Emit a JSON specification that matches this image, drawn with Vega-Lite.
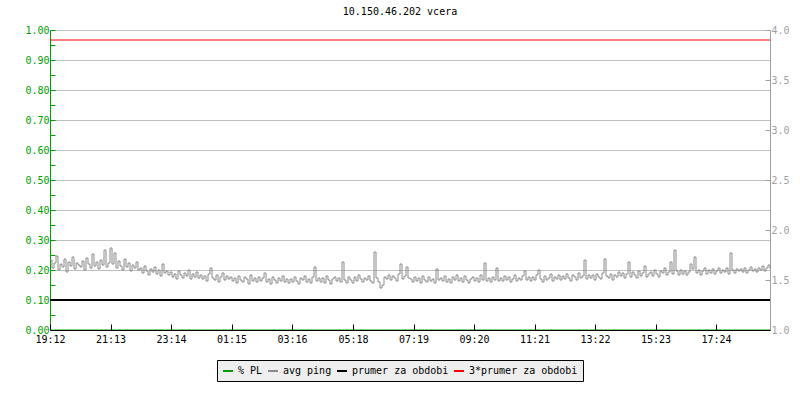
{
  "$schema": "https://vega.github.io/schema/vega-lite/v6.json",
  "width": 720,
  "height": 300,
  "autosize": {"type": "none"},
  "padding": {"left": 50, "top": 30, "right": 30, "bottom": 70},
  "background": "white",
  "title": {"text": "10.150.46.202 vcera", "font": "DejaVu Sans Mono", "fontSize": 10, "fontWeight": "normal", "color": "black", "anchor": "middle", "offset": 8, "dx": -10},
  "config": {"view": {"stroke": null}, "font": "DejaVu Sans Mono"},
  "datasets": {
    "pl": [{"m": 0, "pl": 0}, {"m": 1440, "pl": 0}],
    "ping": [
      {"m":0,"v":1.70},{"m":4,"v":1.62},{"m":8,"v":1.67},{"m":12,"v":1.74},{"m":16,"v":1.60},{"m":20,"v":1.66},{"m":24,"v":1.63},{"m":28,"v":1.71},{"m":32,"v":1.58},{"m":36,"v":1.68},{"m":40,"v":1.64},{"m":44,"v":1.73},{"m":48,"v":1.61},{"m":52,"v":1.67},{"m":56,"v":1.65},
      {"m":60,"v":1.63},{"m":64,"v":1.69},{"m":68,"v":1.60},{"m":72,"v":1.72},{"m":76,"v":1.66},{"m":80,"v":1.62},{"m":84,"v":1.76},{"m":88,"v":1.64},{"m":92,"v":1.68},{"m":96,"v":1.61},{"m":100,"v":1.70},{"m":104,"v":1.65},{"m":108,"v":1.80},{"m":112,"v":1.63},{"m":116,"v":1.67},
      {"m":120,"v":1.82},{"m":124,"v":1.66},{"m":128,"v":1.77},{"m":132,"v":1.62},{"m":136,"v":1.69},{"m":140,"v":1.64},{"m":144,"v":1.60},{"m":148,"v":1.71},{"m":152,"v":1.63},{"m":156,"v":1.67},{"m":160,"v":1.59},{"m":164,"v":1.65},{"m":168,"v":1.62},{"m":172,"v":1.68},{"m":176,"v":1.60},
      {"m":180,"v":1.62},{"m":184,"v":1.57},{"m":188,"v":1.64},{"m":192,"v":1.59},{"m":196,"v":1.55},{"m":200,"v":1.61},{"m":204,"v":1.58},{"m":208,"v":1.63},{"m":212,"v":1.56},{"m":216,"v":1.60},{"m":220,"v":1.54},{"m":224,"v":1.66},{"m":228,"v":1.57},{"m":232,"v":1.59},{"m":236,"v":1.55},
      {"m":240,"v":1.58},{"m":244,"v":1.53},{"m":248,"v":1.56},{"m":252,"v":1.51},{"m":256,"v":1.59},{"m":260,"v":1.55},{"m":264,"v":1.52},{"m":268,"v":1.57},{"m":272,"v":1.54},{"m":276,"v":1.60},{"m":280,"v":1.51},{"m":284,"v":1.56},{"m":288,"v":1.53},{"m":292,"v":1.58},{"m":296,"v":1.52},
      {"m":300,"v":1.55},{"m":304,"v":1.51},{"m":308,"v":1.54},{"m":312,"v":1.49},{"m":316,"v":1.56},{"m":320,"v":1.62},{"m":324,"v":1.52},{"m":328,"v":1.50},{"m":332,"v":1.55},{"m":336,"v":1.48},{"m":340,"v":1.53},{"m":344,"v":1.57},{"m":348,"v":1.50},{"m":352,"v":1.54},{"m":356,"v":1.51},
      {"m":360,"v":1.53},{"m":364,"v":1.49},{"m":368,"v":1.52},{"m":372,"v":1.47},{"m":376,"v":1.54},{"m":380,"v":1.50},{"m":384,"v":1.48},{"m":388,"v":1.53},{"m":392,"v":1.51},{"m":396,"v":1.46},{"m":400,"v":1.55},{"m":404,"v":1.49},{"m":408,"v":1.52},{"m":412,"v":1.48},{"m":416,"v":1.53},
      {"m":420,"v":1.49},{"m":424,"v":1.52},{"m":428,"v":1.57},{"m":432,"v":1.48},{"m":436,"v":1.51},{"m":440,"v":1.46},{"m":444,"v":1.53},{"m":448,"v":1.50},{"m":452,"v":1.47},{"m":456,"v":1.52},{"m":460,"v":1.49},{"m":464,"v":1.54},{"m":468,"v":1.48},{"m":472,"v":1.51},{"m":476,"v":1.47},
      {"m":480,"v":1.51},{"m":484,"v":1.48},{"m":488,"v":1.53},{"m":492,"v":1.49},{"m":496,"v":1.46},{"m":500,"v":1.52},{"m":504,"v":1.50},{"m":508,"v":1.54},{"m":512,"v":1.48},{"m":516,"v":1.51},{"m":520,"v":1.47},{"m":524,"v":1.53},{"m":528,"v":1.63},{"m":532,"v":1.49},{"m":536,"v":1.52},
      {"m":540,"v":1.48},{"m":544,"v":1.52},{"m":548,"v":1.47},{"m":552,"v":1.54},{"m":556,"v":1.50},{"m":560,"v":1.46},{"m":564,"v":1.51},{"m":568,"v":1.53},{"m":572,"v":1.49},{"m":576,"v":1.52},{"m":580,"v":1.48},{"m":584,"v":1.68},{"m":588,"v":1.50},{"m":592,"v":1.47},{"m":596,"v":1.53},
      {"m":600,"v":1.50},{"m":604,"v":1.47},{"m":608,"v":1.53},{"m":612,"v":1.49},{"m":616,"v":1.55},{"m":620,"v":1.51},{"m":624,"v":1.48},{"m":628,"v":1.52},{"m":632,"v":1.50},{"m":636,"v":1.54},{"m":640,"v":1.49},{"m":644,"v":1.47},{"m":648,"v":1.78},{"m":652,"v":1.52},{"m":656,"v":1.48},
      {"m":660,"v":1.42},{"m":664,"v":1.45},{"m":668,"v":1.53},{"m":672,"v":1.51},{"m":676,"v":1.55},{"m":680,"v":1.50},{"m":684,"v":1.54},{"m":688,"v":1.52},{"m":692,"v":1.49},{"m":696,"v":1.56},{"m":700,"v":1.66},{"m":704,"v":1.51},{"m":708,"v":1.54},{"m":712,"v":1.63},{"m":716,"v":1.52},
      {"m":720,"v":1.51},{"m":724,"v":1.48},{"m":728,"v":1.53},{"m":732,"v":1.49},{"m":736,"v":1.52},{"m":740,"v":1.47},{"m":744,"v":1.54},{"m":748,"v":1.50},{"m":752,"v":1.48},{"m":756,"v":1.53},{"m":760,"v":1.49},{"m":764,"v":1.51},{"m":768,"v":1.47},{"m":772,"v":1.61},{"m":776,"v":1.50},
      {"m":780,"v":1.52},{"m":784,"v":1.49},{"m":788,"v":1.54},{"m":792,"v":1.48},{"m":796,"v":1.51},{"m":800,"v":1.47},{"m":804,"v":1.53},{"m":808,"v":1.50},{"m":812,"v":1.55},{"m":816,"v":1.49},{"m":820,"v":1.52},{"m":824,"v":1.48},{"m":828,"v":1.54},{"m":832,"v":1.50},{"m":836,"v":1.47},
      {"m":840,"v":1.51},{"m":844,"v":1.53},{"m":848,"v":1.49},{"m":852,"v":1.52},{"m":856,"v":1.48},{"m":860,"v":1.55},{"m":864,"v":1.50},{"m":868,"v":1.67},{"m":872,"v":1.49},{"m":876,"v":1.52},{"m":880,"v":1.48},{"m":884,"v":1.53},{"m":888,"v":1.50},{"m":892,"v":1.62},{"m":896,"v":1.49},
      {"m":900,"v":1.52},{"m":904,"v":1.49},{"m":908,"v":1.54},{"m":912,"v":1.50},{"m":916,"v":1.53},{"m":920,"v":1.48},{"m":924,"v":1.51},{"m":928,"v":1.55},{"m":932,"v":1.49},{"m":936,"v":1.52},{"m":940,"v":1.50},{"m":944,"v":1.54},{"m":948,"v":1.59},{"m":952,"v":1.50},{"m":956,"v":1.53},
      {"m":960,"v":1.49},{"m":964,"v":1.53},{"m":968,"v":1.50},{"m":972,"v":1.55},{"m":976,"v":1.60},{"m":980,"v":1.51},{"m":984,"v":1.48},{"m":988,"v":1.54},{"m":992,"v":1.50},{"m":996,"v":1.52},{"m":1000,"v":1.56},{"m":1004,"v":1.49},{"m":1008,"v":1.53},{"m":1012,"v":1.51},{"m":1016,"v":1.55},
      {"m":1020,"v":1.50},{"m":1024,"v":1.54},{"m":1028,"v":1.51},{"m":1032,"v":1.56},{"m":1036,"v":1.52},{"m":1040,"v":1.49},{"m":1044,"v":1.55},{"m":1048,"v":1.53},{"m":1052,"v":1.50},{"m":1056,"v":1.57},{"m":1060,"v":1.52},{"m":1064,"v":1.54},{"m":1068,"v":1.70},{"m":1072,"v":1.51},{"m":1076,"v":1.55},
      {"m":1080,"v":1.52},{"m":1084,"v":1.55},{"m":1088,"v":1.50},{"m":1092,"v":1.56},{"m":1096,"v":1.53},{"m":1100,"v":1.51},{"m":1104,"v":1.57},{"m":1108,"v":1.71},{"m":1112,"v":1.54},{"m":1116,"v":1.52},{"m":1120,"v":1.56},{"m":1124,"v":1.50},{"m":1128,"v":1.55},{"m":1132,"v":1.53},{"m":1136,"v":1.58},
      {"m":1140,"v":1.54},{"m":1144,"v":1.57},{"m":1148,"v":1.52},{"m":1152,"v":1.56},{"m":1156,"v":1.68},{"m":1160,"v":1.53},{"m":1164,"v":1.58},{"m":1168,"v":1.55},{"m":1172,"v":1.52},{"m":1176,"v":1.59},{"m":1180,"v":1.54},{"m":1184,"v":1.57},{"m":1188,"v":1.64},{"m":1192,"v":1.53},{"m":1196,"v":1.56},
      {"m":1200,"v":1.58},{"m":1204,"v":1.54},{"m":1208,"v":1.60},{"m":1212,"v":1.56},{"m":1216,"v":1.53},{"m":1220,"v":1.59},{"m":1224,"v":1.57},{"m":1228,"v":1.62},{"m":1232,"v":1.55},{"m":1236,"v":1.58},{"m":1240,"v":1.68},{"m":1244,"v":1.56},{"m":1248,"v":1.80},{"m":1252,"v":1.59},{"m":1256,"v":1.55},
      {"m":1260,"v":1.60},{"m":1264,"v":1.56},{"m":1268,"v":1.59},{"m":1272,"v":1.55},{"m":1276,"v":1.58},{"m":1280,"v":1.66},{"m":1284,"v":1.61},{"m":1288,"v":1.73},{"m":1292,"v":1.57},{"m":1296,"v":1.60},{"m":1300,"v":1.55},{"m":1304,"v":1.59},{"m":1308,"v":1.62},{"m":1312,"v":1.56},{"m":1316,"v":1.60},
      {"m":1320,"v":1.57},{"m":1324,"v":1.61},{"m":1328,"v":1.56},{"m":1332,"v":1.59},{"m":1336,"v":1.62},{"m":1340,"v":1.57},{"m":1344,"v":1.60},{"m":1348,"v":1.58},{"m":1352,"v":1.62},{"m":1356,"v":1.56},{"m":1360,"v":1.77},{"m":1364,"v":1.60},{"m":1368,"v":1.57},{"m":1372,"v":1.61},{"m":1376,"v":1.59},
      {"m":1380,"v":1.61},{"m":1384,"v":1.58},{"m":1388,"v":1.62},{"m":1392,"v":1.57},{"m":1396,"v":1.60},{"m":1400,"v":1.63},{"m":1404,"v":1.59},{"m":1408,"v":1.61},{"m":1412,"v":1.58},{"m":1416,"v":1.62},{"m":1420,"v":1.60},{"m":1424,"v":1.64},{"m":1428,"v":1.59},{"m":1432,"v":1.62},{"m":1436,"v":1.65},
      {"m":1440,"v":1.61}
    ]
  },
  "layer": [
    {
      "data": {"name": "pl"},
      "mark": {"type": "line", "strokeWidth": 1},
      "encoding": {
        "x": {
          "field": "m", "type": "quantitative",
          "scale": {"domain": [0, 1440], "nice": false, "zero": false},
          "axis": {
            "values": [0, 121, 242, 363, 484, 606, 727, 848, 969, 1090, 1211, 1332],
            "labelExpr": "timeFormat(datetime(2024,0,1,19,12+datum.value),'%H:%M')",
            "domainColor": "black", "tickColor": "black", "tickSize": -6,
            "labelColor": "black", "labelFont": "DejaVu Sans Mono", "labelFontSize": 10,
            "labelPadding": 10, "grid": false, "title": null, "labelFlush": false, "labelOverlap": false, "zindex": 1
          }
        },
        "y": {
          "field": "pl", "type": "quantitative",
          "scale": {"domain": [0, 1], "nice": false, "zero": false},
          "axis": {
            "orient": "left",
            "values": [0, 0.05, 0.1, 0.15, 0.2, 0.25, 0.3, 0.35, 0.4, 0.45, 0.5, 0.55, 0.6, 0.65, 0.7, 0.75, 0.8, 0.85, 0.9, 0.95, 1],
            "labelExpr": "round(datum.value*100)%10==0 ? format(datum.value,'.2f') : ''",
            "labelColor": "#00a000", "labelFont": "DejaVu Sans Mono", "labelFontSize": 10,
            "domainColor": "#00a000", "tickColor": "#00a000", "tickSize": -5, "labelPadding": 6,
            "grid": true, "gridColor": "#c0c0c0",
            "gridOpacity": {"condition": {"test": "round(datum.value*100)%10!=0", "value": 0}, "value": 1},
            "title": null, "labelFlush": false, "labelOverlap": false
          }
        },
        "color": {
          "datum": "% PL", "type": "nominal",
          "scale": {"domain": ["% PL", "avg ping", "prumer za obdobi", "3*prumer za obdobi"], "range": ["#00a000", "#8a8a8a", "#000000", "#ff0000"]},
          "legend": {
            "orient": "none", "legendX": 167, "legendY": 330, "direction": "horizontal", "title": null,
            "symbolType": "stroke", "symbolSize": 100, "symbolStrokeWidth": 2,
            "labelFont": "DejaVu Sans Mono", "labelFontSize": 10, "labelColor": "black",
            "labelOffset": 4, "columnPadding": 1, "padding": 5,
            "fillColor": "#eeeeee", "strokeColor": "black", "cornerRadius": 0
          }
        }
      }
    },
    {
      "layer": [
        {
          "data": {"name": "ping"},
          "mark": {"type": "line", "interpolate": "step-after", "strokeWidth": 1},
          "encoding": {
            "x": {"field": "m", "type": "quantitative"},
            "y": {
              "field": "v", "type": "quantitative",
              "scale": {"domain": [1, 4], "nice": false, "zero": false},
              "axis": {
                "orient": "right",
                "values": [1, 1.25, 1.5, 1.75, 2, 2.25, 2.5, 2.75, 3, 3.25, 3.5, 3.75, 4],
                "labelExpr": "round(datum.value*100)%50==0 ? format(datum.value,'.1f') : ''",
                "labelColor": "#a0a0a0", "labelFont": "DejaVu Sans Mono", "labelFontSize": 10,
                "domainColor": "#a0a0a0", "tickColor": "#a0a0a0", "tickSize": -5, "labelPadding": 6,
                "grid": false, "title": null, "labelFlush": false, "labelOverlap": false
              }
            },
            "color": {"datum": "avg ping", "type": "nominal"}
          }
        },
        {
          "data": {"values": [{}]},
          "mark": {"type": "rule", "strokeWidth": 2},
          "encoding": {
            "y": {"datum": 1.3, "type": "quantitative"},
            "color": {"datum": "prumer za obdobi", "type": "nominal"}
          }
        },
        {
          "data": {"values": [{}]},
          "mark": {"type": "rule", "strokeWidth": 1},
          "encoding": {
            "y": {"datum": 3.9, "type": "quantitative"},
            "color": {"datum": "3*prumer za obdobi", "type": "nominal"}
          }
        }
      ]
    }
  ],
  "resolve": {"scale": {"y": "independent"}, "axis": {"y": "independent"}}
}
